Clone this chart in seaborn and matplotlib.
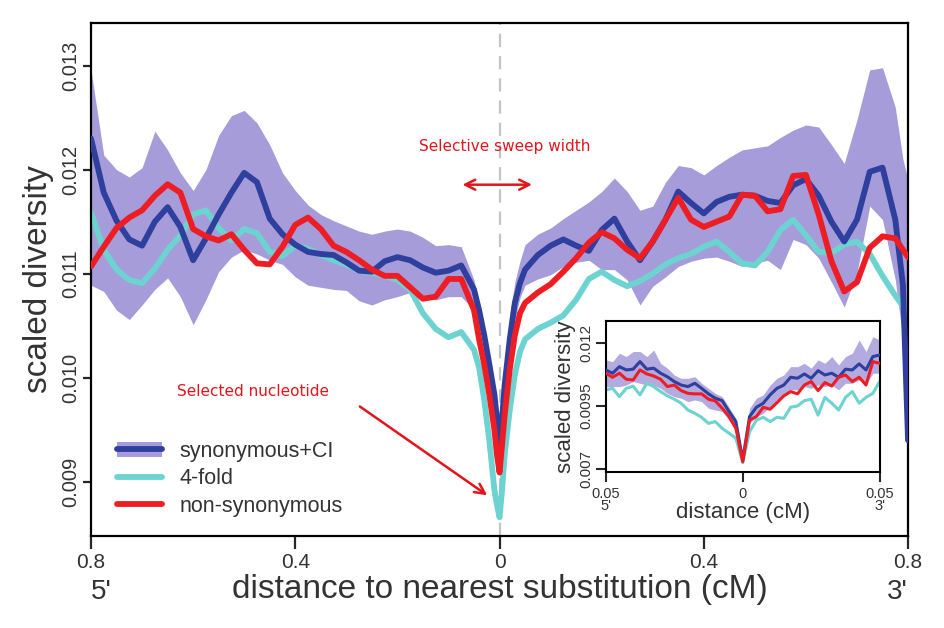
import matplotlib
matplotlib.use('Agg')
import matplotlib.pyplot as plt
import numpy as np
import pandas as pd
import seaborn as sns
from matplotlib.patches import Patch
from matplotlib.lines import Line2D

sns.set_style('ticks')
plt.rcParams['font.family'] = ['Liberation Sans', 'DejaVu Sans']

BLUE = '#2e3f9e'
CYAN = '#6dd3d0'
RED = '#ee1d23'
BAND = '#a69cda'
NOTE = '#e3141c'
GREY = '#333333'

# main panel: distance (cM), negative = 5' side
x_main = [-0.8, -0.775, -0.75, -0.725, -0.7, -0.675, -0.65, -0.625, -0.6, -0.575,
          -0.55, -0.525, -0.5, -0.475, -0.45, -0.425, -0.4, -0.375, -0.35, -0.325,
          -0.3, -0.275, -0.25, -0.225, -0.2, -0.175, -0.15, -0.125, -0.1, -0.075,
          -0.05, -0.04, -0.03, -0.02, -0.01, -0.005, 0.0, 0.005, 0.01, 0.02, 0.03,
          0.04, 0.05, 0.075, 0.1, 0.125, 0.15, 0.175, 0.2, 0.225, 0.25, 0.275, 0.3,
          0.325, 0.35, 0.375, 0.4, 0.425, 0.45, 0.475, 0.5, 0.525, 0.55, 0.575, 0.6,
          0.625, 0.65, 0.675, 0.7, 0.725, 0.75, 0.775, 0.79, 0.8]

synonymous = [0.01230, 0.01178, 0.01151, 0.01133, 0.01127, 0.01150, 0.01164, 0.01145, 0.01113, 0.01134,
              0.01157, 0.01178, 0.01197, 0.01188, 0.01153, 0.01138, 0.01128, 0.01121, 0.01119, 0.01118,
              0.01111, 0.01103, 0.01102, 0.01112, 0.01116, 0.01113, 0.01106, 0.01101, 0.01103, 0.01108,
              0.01085, 0.01065, 0.01041, 0.01013, 0.00984, 0.00960, 0.00936, 0.00960, 0.00993, 0.01037,
              0.01072, 0.01091, 0.01104, 0.01118, 0.01127, 0.01133, 0.01127, 0.01122, 0.01142, 0.01153,
              0.01131, 0.01113, 0.01131, 0.01152, 0.01179, 0.01168, 0.01158, 0.01169, 0.01174, 0.01176,
              0.01175, 0.01170, 0.01168, 0.01185, 0.01191, 0.01175, 0.01150, 0.01131, 0.01152, 0.01198,
              0.01202, 0.01152, 0.01089, 0.00940]

ci_high = [0.01296, 0.01214, 0.01200, 0.01193, 0.01202, 0.01237, 0.01219, 0.01197, 0.01180, 0.01200,
           0.01233, 0.01252, 0.01257, 0.01245, 0.01224, 0.01197, 0.01180, 0.01166, 0.01157, 0.01151,
           0.01146, 0.01141, 0.01138, 0.01141, 0.01143, 0.01141, 0.01135, 0.01127, 0.01128, 0.01126,
           0.01094, 0.01070, 0.01046, 0.01017, 0.00988, 0.00964, 0.00940, 0.00964, 0.01008, 0.01061,
           0.01092, 0.01112, 0.01128, 0.01138, 0.01144, 0.01153, 0.01161, 0.01169, 0.01179, 0.01192,
           0.01179, 0.01161, 0.01165, 0.01188, 0.01204, 0.01202, 0.01195, 0.01204, 0.01212, 0.01219,
           0.01221, 0.01223, 0.01231, 0.01238, 0.01243, 0.01241, 0.01224, 0.01206, 0.01248, 0.01296,
           0.01298, 0.01260, 0.01210, 0.01190]

ci_low = [0.01089, 0.01083, 0.01065, 0.01056, 0.01070, 0.01085, 0.01096, 0.01078, 0.01051, 0.01075,
          0.01102, 0.01116, 0.01123, 0.01119, 0.01113, 0.01109, 0.01097, 0.01089, 0.01087, 0.01085,
          0.01084, 0.01074, 0.01070, 0.01075, 0.01078, 0.01082, 0.01078, 0.01075, 0.01078, 0.01078,
          0.01065, 0.01049, 0.01027, 0.01003, 0.00974, 0.00955, 0.00931, 0.00950, 0.00979, 0.01017,
          0.01056, 0.01077, 0.01089, 0.01095, 0.01099, 0.01107, 0.01111, 0.01113, 0.01104, 0.01104,
          0.01094, 0.01070, 0.01088, 0.01097, 0.01107, 0.01112, 0.01115, 0.01116, 0.01112, 0.01107,
          0.01110, 0.01113, 0.01104, 0.01133, 0.01128, 0.01115, 0.01092, 0.01068, 0.01101, 0.01165,
          0.01152, 0.01094, 0.01037, 0.00921]

fourfold = [0.01159, 0.01123, 0.01104, 0.01094, 0.01091, 0.01105, 0.01123, 0.01137, 0.01157, 0.01161,
            0.01144, 0.01132, 0.01143, 0.01139, 0.01121, 0.01117, 0.01127, 0.01124, 0.01118, 0.01113,
            0.01109, 0.01103, 0.01101, 0.01098, 0.01094, 0.01085, 0.01062, 0.01047, 0.01039, 0.01044,
            0.01027, 0.01010, 0.00979, 0.00940, 0.00892, 0.00878, 0.00866, 0.00892, 0.00926, 0.00969,
            0.01003, 0.01025, 0.01037, 0.01047, 0.01053, 0.01060, 0.01075, 0.01095, 0.01102, 0.01094,
            0.01088, 0.01093, 0.01100, 0.01109, 0.01115, 0.01119, 0.01126, 0.01131, 0.01121, 0.01110,
            0.01108, 0.01121, 0.01142, 0.01152, 0.01137, 0.01121, 0.01120, 0.01128, 0.01131, 0.01119,
            0.01098, 0.01079, 0.01069, 0.01065]

nonsyn = [0.01107, 0.01126, 0.01144, 0.01154, 0.01161, 0.01175, 0.01186, 0.01178, 0.01143, 0.01136,
          0.01132, 0.01138, 0.01123, 0.01110, 0.01109, 0.01126, 0.01147, 0.01154, 0.01143, 0.01127,
          0.01121, 0.01113, 0.01104, 0.01098, 0.01098, 0.01087, 0.01076, 0.01078, 0.01095, 0.01095,
          0.01065, 0.01037, 0.01013, 0.00984, 0.00950, 0.00926, 0.00909, 0.00936, 0.00964, 0.01008,
          0.01041, 0.01062, 0.01072, 0.01082, 0.01090, 0.01102, 0.01115, 0.01130, 0.01140, 0.01134,
          0.01123, 0.01115, 0.01131, 0.01152, 0.01173, 0.01152, 0.01145, 0.01150, 0.01155, 0.01176,
          0.01175, 0.01160, 0.01162, 0.01194, 0.01195, 0.01157, 0.01112, 0.01083, 0.01092, 0.01125,
          0.01136, 0.01134, 0.01123, 0.01116]

# inset: +/- 0.05 cM around the substitution
x_inset = np.linspace(-0.05, 0.05, 41)

in_syn = [0.01093, 0.01080, 0.01106, 0.01093, 0.01096, 0.01126, 0.01096, 0.01100, 0.01080, 0.01066,
          0.01047, 0.01033, 0.01027, 0.01040, 0.01020, 0.00998, 0.00981, 0.00971, 0.00928, 0.00888,
          0.00736,
          0.00908, 0.00945, 0.00961, 0.00994, 0.01020, 0.01033, 0.01064, 0.01060, 0.01077, 0.01060,
          0.01090, 0.01073, 0.01080, 0.01064, 0.01096, 0.01093, 0.01117, 0.01093, 0.01146, 0.01152]
in_high = [0.01133, 0.01126, 0.01159, 0.01146, 0.01166, 0.01166, 0.01146, 0.01172, 0.01119, 0.01100,
           0.01073, 0.01060, 0.01060, 0.01066, 0.01040, 0.01020, 0.01000, 0.00987, 0.00945, 0.00901,
           0.00749,
           0.00941, 0.00981, 0.00994, 0.01033, 0.01060, 0.01073, 0.01106, 0.01106, 0.01119, 0.01100,
           0.01133, 0.01119, 0.01146, 0.01113, 0.01146, 0.01159, 0.01212, 0.01166, 0.01225, 0.01212]
in_low = [0.01027, 0.01027, 0.01027, 0.01033, 0.01047, 0.01040, 0.01033, 0.01033, 0.01020, 0.01000,
          0.00987, 0.00981, 0.00967, 0.00974, 0.00967, 0.00941, 0.00934, 0.00928, 0.00894, 0.00855,
          0.00722,
          0.00881, 0.00908, 0.00921, 0.00947, 0.00974, 0.00987, 0.01014, 0.01014, 0.01027, 0.01020,
          0.01033, 0.01027, 0.01033, 0.01014, 0.01040, 0.01040, 0.01053, 0.01033, 0.01080, 0.01080]
in_four = [0.01014, 0.01020, 0.00987, 0.01020, 0.01029, 0.00994, 0.01040, 0.01027, 0.01007, 0.00990,
           0.00977, 0.00961, 0.00934, 0.00921, 0.00905, 0.00881, 0.00888, 0.00861, 0.00842, 0.00822,
           0.00725,
           0.00848, 0.00894, 0.00905, 0.00888, 0.00905, 0.00901, 0.00945, 0.00950, 0.00971, 0.00977,
           0.00914, 0.00984, 0.00961, 0.00934, 0.00984, 0.01007, 0.00961, 0.00984, 0.01000, 0.01047]
in_non = [0.01080, 0.01064, 0.01080, 0.01056, 0.01053, 0.01093, 0.01077, 0.01069, 0.01056, 0.01027,
          0.01033, 0.01011, 0.01000, 0.00998, 0.00998, 0.00977, 0.00970, 0.00941, 0.00908, 0.00861,
          0.00729,
          0.00894, 0.00908, 0.00945, 0.00937, 0.00963, 0.00990, 0.01007, 0.00998, 0.01033, 0.01047,
          0.01011, 0.01043, 0.01029, 0.01064, 0.01073, 0.01047, 0.01064, 0.01033, 0.01126, 0.01119]

main_ticks = [-0.8, -0.4, 0, 0.4, 0.8]
main_ticklabels = ['0.8', '0.4', '0', '0.4', '0.8']
y_ticks = [0.009, 0.010, 0.011, 0.012, 0.013]
y_ticklabels = ['0.009', '0.010', '0.011', '0.012', '0.013']

fig = plt.figure(figsize=(9.45, 6.28), dpi=100)
fig.patch.set_facecolor('white')
ax = fig.add_axes([0.0963, 0.1465, 0.8646, 0.8169])

ax.axvline(0, color='#c4c4c4', lw=1.6, ls=(0, (6, 4)), zorder=0.5)
ax.fill_between(x_main, ci_low, ci_high, color=BAND, lw=0, zorder=1)
line_kw = dict(estimator=None, solid_joinstyle='round', solid_capstyle='round')
sns.lineplot(x=x_main, y=fourfold, color=CYAN, lw=4.2, ax=ax, zorder=2, **line_kw)
sns.lineplot(x=x_main, y=synonymous, color=BLUE, lw=4.2, ax=ax, zorder=3, **line_kw)
sns.lineplot(x=x_main, y=nonsyn, color=RED, lw=4.2, ax=ax, zorder=4, **line_kw)

ax.set_xlim(-0.8, 0.8)
ax.set_ylim(0.00848, 0.01341)
ax.set_xticks(main_ticks)
ax.set_xticklabels(main_ticklabels)
ax.set_yticks(y_ticks)
ax.set_yticklabels(y_ticklabels)
ax.tick_params(axis='x', length=9, width=1.6, labelsize=15, pad=3, labelcolor=GREY)
ax.tick_params(axis='y', length=6, width=1.6, labelsize=14.5, pad=2, labelrotation=90, labelcolor=GREY)
for lab in ax.get_yticklabels():
    lab.set_va('center')
for sp in ax.spines.values():
    sp.set_linewidth(1.6)
    sp.set_color('black')

ax.set_xlabel('distance to nearest substitution (cM)', fontsize=24, color=GREY)
ax.xaxis.set_label_coords(0.5, -0.074)
ax.set_ylabel('scaled diversity', fontsize=24, color=GREY)
ax.yaxis.set_label_coords(-0.045, 0.5)
ax.text(-0.8, -0.084, "5'", transform=ax.get_xaxis_transform(), ha='left', va='top', fontsize=20, color=GREY)
ax.text(0.8, -0.084, "3'", transform=ax.get_xaxis_transform(), ha='right', va='top', fontsize=20, color=GREY)

# annotations
ax.text(0.0098, 0.012221, 'Selective sweep width', color=NOTE, fontsize=11, ha='center', va='center',
        family='DejaVu Sans', zorder=6)
ax.annotate('', xy=(0.069, 0.011856), xytext=(-0.078, 0.011856),
            arrowprops=dict(arrowstyle='<->', color=NOTE, lw=1.8, mutation_scale=18), zorder=6)
ax.text(-0.631, 0.009865, 'Selected nucleotide', color=NOTE, fontsize=11, ha='left', va='center',
        family='DejaVu Sans', zorder=6)
ax.annotate('', xy=(-0.0196, 0.008856), xytext=(-0.278, 0.00974),
            arrowprops=dict(arrowstyle='->', color=NOTE, lw=1.8, mutation_scale=18), zorder=6)

handles = [(Patch(facecolor=BAND, edgecolor='none'), Line2D([], [], color=BLUE, lw=4.2)),
           Line2D([], [], color=CYAN, lw=4.2),
           Line2D([], [], color=RED, lw=4.2)]
ax.legend(handles, ['synonymous+CI', '4-fold', 'non-synonymous'], loc='lower left',
          bbox_to_anchor=(0.008, 0.0), frameon=False, fontsize=15.5, handlelength=2.1,
          handletextpad=0.8, labelspacing=0.3, labelcolor=GREY)

# inset
ins = fig.add_axes([0.641, 0.2484, 0.2899, 0.2404])
ins.set_facecolor('white')
ins.fill_between(x_inset, in_low, in_high, color='#b3aadf', lw=0, zorder=1)
sns.lineplot(x=x_inset, y=in_four, color=CYAN, lw=2.2, ax=ins, zorder=2, **line_kw)
sns.lineplot(x=x_inset, y=in_syn, color=BLUE, lw=2.2, ax=ins, zorder=3, **line_kw)
sns.lineplot(x=x_inset, y=in_non, color=RED, lw=2.2, ax=ins, zorder=4, **line_kw)
ins.set_xlim(-0.05, 0.05)
ins.set_ylim(0.00688, 0.01287)
ins.set_xticks([-0.05, 0, 0.05])
ins.set_xticklabels(["0.05\n5'", '0', "0.05\n3'"], linespacing=0.75)
ins.set_yticks([0.007, 0.0095, 0.012])
ins.set_yticklabels(['0.007', '0.0095', '0.012'])
ins.tick_params(axis='x', length=7, width=1.5, labelsize=10.5, pad=4, labelcolor=GREY)
ins.tick_params(axis='y', length=7, width=1.5, labelsize=11, pad=2, labelrotation=90, labelcolor=GREY)
for lab in ins.get_yticklabels():
    lab.set_va('center')
for sp in ins.spines.values():
    sp.set_linewidth(1.5)
    sp.set_color('black')
ins.set_xlabel('distance (cM)', fontsize=16, color=GREY)
ins.xaxis.set_label_coords(0.5, -0.2)
ins.set_ylabel('scaled diversity', fontsize=16, color=GREY)
ins.yaxis.set_label_coords(-0.109, 0.5)

fig.savefig('out.png', dpi=100, facecolor='white')
